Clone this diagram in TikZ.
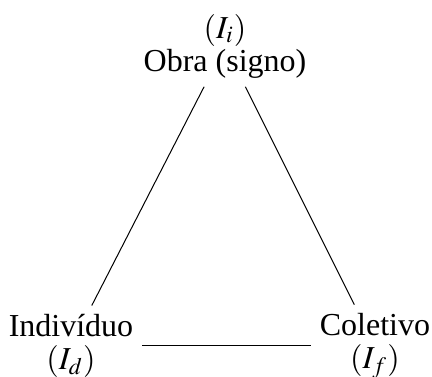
\documentclass[tikz,border=0pt]{standalone}
\usepackage{mathptmx}
\usepackage{fontspec}
\setmainfont{Liberation Serif}
\usetikzlibrary{positioning}

\begin{document}
\begin{tikzpicture}[x=0.4pt,y=0.4pt,vert/.style={align=center,font=\fontsize{12.8}{13.2}\selectfont}]
\useasboundingbox (0,0) rectangle (432,377);
\node[vert] (obra) at (225,331) {$(I_i)$\\Obra (signo)};
\node[vert] (indiv) at (71,31) {Indivíduo\\$(I_d)$};
\node[vert] (colet) at (375,31) {Coletivo\\$(I_f)$};
\draw (obra)--(indiv);\draw (obra)--(colet);\draw (indiv)--(colet);
\end{tikzpicture}
\end{document}
